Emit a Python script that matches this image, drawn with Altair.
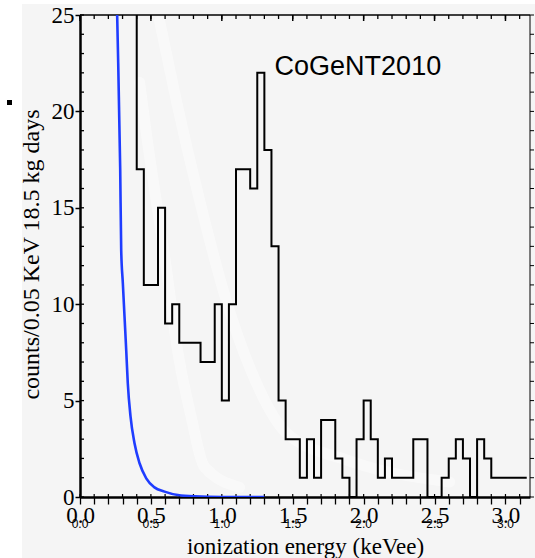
import altair as alt
import pandas as pd

# ---------------- data ----------------
bin_width = 0.05
bin_left = [0.35, 0.40, 0.45, 0.50, 0.55, 0.60, 0.65, 0.70, 0.75, 0.80,
            0.85, 0.90, 0.95, 1.00, 1.05, 1.10, 1.15, 1.20, 1.25, 1.30,
            1.35, 1.40, 1.45, 1.50, 1.55, 1.60, 1.65, 1.70, 1.75, 1.80,
            1.85, 1.90, 1.95, 2.00, 2.05, 2.10, 2.15, 2.20, 2.25, 2.30,
            2.35, 2.40, 2.45, 2.50, 2.55, 2.60, 2.65, 2.70, 2.75, 2.80,
            2.85, 2.90, 2.95, 3.00, 3.05, 3.10]
bin_counts = [30, 17, 11, 11, 15, 9, 10, 8, 8, 8,
              7, 7, 10, 5, 10, 17, 17, 16, 22, 18,
              13, 5, 3, 3, 1, 3, 1, 4, 4, 2,
              1, 0, 3, 5, 3, 1, 2, 1, 1, 1,
              3, 3, 0, 0, 1, 2, 3, 2, 0, 3,
              2, 1, 1, 1, 1, 1]

curve_x = [0.249, 0.262, 0.2835, 0.2905, 0.302, 0.314, 0.326, 0.337, 0.356,
           0.384, 0.420, 0.467, 0.525, 0.596, 0.690, 0.807, 1.00, 1.30]
curve_y = [30, 25, 17, 12.8, 11.1, 9.35, 7.6, 5.9, 4.2,
           2.8, 1.75, 0.97, 0.50, 0.28, 0.10, 0.03, 0.0, 0.0]

band_a_x = [0.561, 0.678, 0.843, 1.031, 1.196, 1.456, 1.879, 2.112, 2.606]
band_a_y = [24.7, 20.6, 15.4, 10.2, 6.74, 3.32, 1.92, 1.40, 0.78]
band_b_x = [0.42, 0.467, 0.608, 0.688, 0.784, 0.878, 1.125]
band_b_y = [21.5, 18.9, 11.9, 7.6, 4.15, 1.56, 0.5]

x_tick_values = [round(0.1 * i, 1) for i in range(32)]
x_label_values = [0.0, 0.5, 1.0, 1.5, 2.0, 2.5, 3.0]
y_major_values = [0, 5, 10, 15, 20, 25]
y_minor_values = list(range(0, 26))

x_title = "ionization energy (keVee)"
y_title = "counts/0.05 KeV 18.5 kg days"
annotation = "CoGeNT2010"
annotation_x = 1.372
annotation_y = 21.9

X_MAX = 3.173
W, H = 450, 482

# ---------------- tables ----------------
rows = []
k = 0
for l, c in zip(bin_left, bin_counts):
    rows.append({"x": l, "y": c, "i": k}); k += 1
    rows.append({"x": round(l + bin_width, 3), "y": c, "i": k}); k += 1
hist_df = pd.DataFrame(rows)
curve_df = pd.DataFrame({"x": curve_x, "y": curve_y, "i": range(len(curve_x))})
band_df = pd.concat([
    pd.DataFrame({"x": band_a_x, "y": band_a_y, "b": "a", "i": range(len(band_a_x))}),
    pd.DataFrame({"x": band_b_x, "y": band_b_y, "b": "b", "i": range(len(band_b_x))}),
])
xt_df = pd.DataFrame({"x": x_tick_values})
xl_df = pd.DataFrame({"x": x_label_values})
yt_df = pd.DataFrame({"y": y_minor_values})
one = pd.DataFrame({"a": [0]})
ann_df = pd.DataFrame({"x": [annotation_x], "y": [annotation_y], "t": [annotation]})

xs = alt.Scale(domain=[0, X_MAX], nice=False, zero=False)
ys = alt.Scale(domain=[0, 25], nice=False, zero=False)

SERIF = "Liberation Serif"

x_axis = alt.Axis(
    values=x_tick_values, tickSize=7, tickWidth=1.3, tickColor="black",
    domainColor="black", domainWidth=2.5, grid=False,
    labelExpr="(abs(datum.value*2 - round(datum.value*2)) < 0.001) ? format(datum.value, '.1f') : ''",
    labelFont=SERIF, labelFontSize=23, labelColor="black", labelPadding=0,
    labelOverlap=False, labelFlush=False,
    title=x_title, titleFont=SERIF, titleFontSize=23, titleFontWeight="normal",
    titleColor="black", titleBaseline="alphabetic", titleY=56,
)
y_axis = alt.Axis(
    values=y_major_values, tickSize=5, tickWidth=1.5, tickColor="black",
    domainColor="black", domainWidth=2.5, grid=False,
    labelFont=SERIF, labelFontSize=23, labelColor="black", labelPadding=1,
    title=y_title, titleFont=SERIF, titleFontSize=24, titleFontWeight="normal",
    titleColor="black", titleX=-37, titleY=H / 2 - 2,
)


def X(field="x"):
    return alt.X(f"{field}:Q", scale=xs, axis=x_axis)


def Y(field="y"):
    return alt.Y(f"{field}:Q", scale=ys, axis=y_axis)


# ---------------- layers ----------------
left_strip = alt.Chart(one).mark_rect(color="white").encode(
    x=alt.value(-80), x2=alt.value(-58), y=alt.value(-15), y2=alt.value(H + 61))
top_strip = alt.Chart(one).mark_rect(color="white").encode(
    x=alt.value(-80), x2=alt.value(W + 5), y=alt.value(-15), y2=alt.value(-11))
dot = alt.Chart(one).mark_rect(color="black").encode(
    x=alt.value(-73), x2=alt.value(-68), y=alt.value(85), y2=alt.value(90))

bands = alt.Chart(band_df).mark_line(
    color="white", strokeWidth=11, opacity=0.45, strokeCap="round",
    strokeJoin="round", interpolate="monotone", clip=True).encode(
    x=X(), y=Y(), detail="b:N", order="i:Q")

top_frame = alt.Chart(one).mark_rule(color="black", strokeWidth=1.5).encode(
    x=alt.value(0), x2=alt.value(W), y=alt.value(0))
right_frame = alt.Chart(one).mark_rule(color="black", strokeWidth=1).encode(
    x=alt.value(W), y=alt.value(0), y2=alt.value(H))

top_ticks = alt.Chart(xt_df).mark_rule(color="black", strokeWidth=1.3).encode(
    x=X(), y=alt.value(0), y2=alt.value(4))
top_major_ticks = alt.Chart(xl_df).mark_rule(color="black", strokeWidth=1.5).encode(
    x=X(), y=alt.value(0), y2=alt.value(6))
bottom_in_ticks = alt.Chart(xt_df).mark_rule(color="black", strokeWidth=1.2).encode(
    x=X(), y=alt.value(H), y2=alt.value(H - 3))
left_in_ticks = alt.Chart(yt_df).mark_rule(color="black", strokeWidth=1.3).encode(
    y=Y(), x=alt.value(0), x2=alt.value(4))
right_ticks = alt.Chart(yt_df).mark_rule(color="black", strokeWidth=1).encode(
    y=Y(), x=alt.value(W), x2=alt.value(W + 4))

hist = alt.Chart(hist_df).mark_line(color="black", strokeWidth=2, clip=True,
                                    strokeJoin="miter").encode(
    x=X(), y=Y(), order="i:Q")

curve = alt.Chart(curve_df).mark_line(color="#1f3dff", strokeWidth=2.6, clip=True,
                                      interpolate="monotone").encode(
    x=X(), y=Y(), order="i:Q")

small_labels = alt.Chart(xl_df).mark_text(
    font="Liberation Sans", fontSize=12, color="black", baseline="middle",
    align="center").encode(
    x=X(), y=alt.value(H + 27),
    text=alt.Text("x:Q", format=".1f"))

ann = alt.Chart(ann_df).mark_text(
    font="Liberation Sans", fontSize=27, color="black", align="left",
    baseline="alphabetic").encode(
    x=X(), y=Y(), text="t:N")

chart = alt.layer(
    left_strip, top_strip, dot, bands, top_frame, right_frame, top_ticks,
    top_major_ticks, bottom_in_ticks, left_in_ticks, right_ticks, hist, curve,
    small_labels, ann
).properties(
    width=W, height=H,
    autosize=alt.AutoSizeParams(type="none"),
    padding={"left": 80, "top": 15, "right": 5, "bottom": 61},
    background="#f5f5f5",
).configure_view(strokeWidth=0, fill="#f5f5f5")

chart.save("out.html", embed_options={"renderer": "svg", "actions": False})
